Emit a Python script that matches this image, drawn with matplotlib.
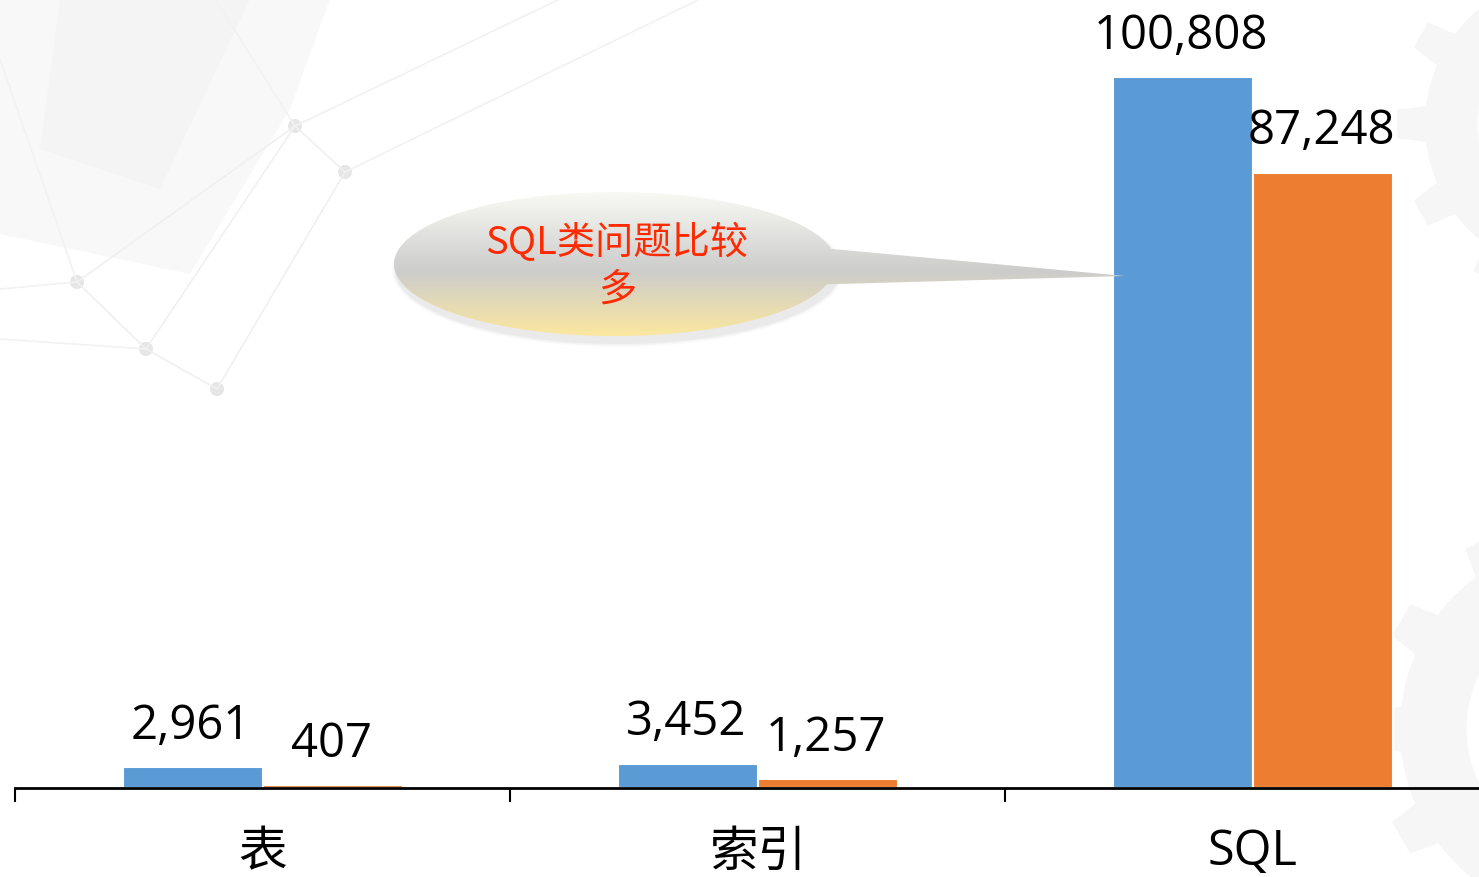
import numpy as np
import matplotlib
matplotlib.use("Agg")
import matplotlib.pyplot as plt
from matplotlib.patches import Polygon, Ellipse, Circle, Wedge, PathPatch
from matplotlib.path import Path

plt.rcParams["font.family"] = ["Noto Sans CJK SC", "DejaVu Sans"]

categories = ["表", "索引", "SQL"]
series_a = [2961, 3452, 100808]   # blue
series_b = [407, 1257, 87248]     # orange
note = "SQL类问题比较\n多"

W, H = 1479, 878
fig = plt.figure(figsize=(W / 100, H / 100), dpi=100)
fig.patch.set_facecolor("white")

# ---- faint decorative background (pixel coords) ----
bg = fig.add_axes([0, 0, 1, 1], zorder=0)
bg.set_xlim(0, W); bg.set_ylim(H, 0); bg.axis("off")
bg.add_patch(Polygon([[0, 0], [330, 0], [290, 110], [190, 275], [0, 235]], closed=True,
                     fc="#f0f0f0", ec="none", alpha=0.45))
bg.add_patch(Polygon([[60, 0], [250, 0], [160, 190], [40, 150]], closed=True,
                     fc="#ebebeb", ec="none", alpha=0.25))
dots = [(295, 127), (345, 173), (77, 283), (146, 350), (217, 390)]
segs = [(0, 1), (1, 4), (2, 3), (3, 4), (0, 3), (2, 0)]
for i, j in segs:
    bg.plot([dots[i][0], dots[j][0]], [dots[i][1], dots[j][1]], color="#f0f0f0", lw=1.2)
for x0, y0, x1, y1 in [(215, 0, 295, 127), (0, 60, 77, 283), (0, 340, 146, 350),
                       (295, 127, 560, 0), (345, 173, 700, 0), (0, 290, 77, 283)]:
    bg.plot([x0, x1], [y0, y1], color="#f2f2f2", lw=1.2)
for x, y in dots:
    bg.add_patch(Circle((x, y), 7, fc="#e6e6e6", ec="none"))
# gears at right edge
for cx, cy, r in [(1575, 125, 150), (1590, 730, 190)]:
    bg.add_patch(Wedge((cx, cy), r, 0, 360, width=r * 0.35, fc="#f6f6f6", ec="none"))
    for a in np.linspace(0, 2 * np.pi, 12, endpoint=False):
        ux, uy = np.cos(a), np.sin(a)
        px, py = -uy, ux
        t = r * 0.12
        pts = [[cx + ux * (r - 2) + px * t, cy + uy * (r - 2) + py * t],
               [cx + ux * (r + 28) + px * t * 0.8, cy + uy * (r + 28) + py * t * 0.8],
               [cx + ux * (r + 28) - px * t * 0.8, cy + uy * (r + 28) - py * t * 0.8],
               [cx + ux * (r - 2) - px * t, cy + uy * (r - 2) - py * t]]
        bg.add_patch(Polygon(pts, closed=True, fc="#f6f6f6", ec="none"))

# ---- main chart ----
left, base = 15, 789
step = 495
ax = fig.add_axes([left / W, (H - base) / H, (W - left) / W, base / H], zorder=2)
ax.patch.set_alpha(0)
x = np.arange(len(categories))
bw = 140 / step
top_px = 78
ymax = series_a[2] * base / (base - top_px)

ba = ax.bar(x - bw / 2, series_a, bw, color="#5B9BD5", edgecolor="white", lw=1.5)
bb = ax.bar(x + bw / 2, series_b, bw, color="#ED7D31", edgecolor="white", lw=1.5)
for bars, vals in [(ba, series_a), (bb, series_b)]:
    for r, v in zip(bars, vals):
        ax.annotate(f"{v:,}", (r.get_x() + r.get_width() / 2, v), xytext=(-1, 21),
                    textcoords="offset points", ha="center", va="baseline",
                    fontsize=34, family="Open Sans", color="black")

for s in ["top", "right", "left"]:
    ax.spines[s].set_visible(False)
ax.spines["bottom"].set_linewidth(2)
ax.set_yticks([])
ax.set_xticks([-0.5, 0.5, 1.5, 2.5])
ax.set_xticklabels([])
ax.tick_params(axis="x", which="major", length=10, width=1.5, direction="out")
ax.set_xticks(x, minor=True)
ax.set_xticklabels(categories, minor=True, fontsize=35)
ax.tick_params(axis="x", which="minor", length=0, pad=28)
for lab in ax.get_xticklabels(minor=True):
    if lab.get_text() == "SQL":
        lab.set_family("Open Sans")
ax.set_xlim(-0.5, -0.5 + (W - left) / step)
ax.set_ylim(0, ymax)

# ---- callout bubble (pixel coords) ----
ov = fig.add_axes([0, 0, 1, 1], zorder=3)
ov.set_xlim(0, W); ov.set_ylim(H, 0); ov.axis("off")
ecx, ecy, ea, eb = 615, 265, 221, 72
tip = (1125, 277)
th1 = np.arctan2(-15 / eb, 214 / ea)
th2 = np.arctan2(20 / eb, 209 / ea)
ts = np.linspace(th2, th1 + 2 * np.pi, 300)
verts = [(ecx + ea * np.cos(t), ecy + eb * np.sin(t)) for t in ts] + [tip]
shape = Path(verts + [verts[0]], closed=True)
for k, al in [(10, 0.04), (7, 0.05), (4, 0.07)]:
    ov.add_patch(Ellipse((ecx + 3, ecy + 6), 2 * ea + k, 2 * eb + k, fc="#808080",
                         ec="none", alpha=al))
grad_y = np.linspace(0, 1, 256)
c_top = np.array([0.98, 0.98, 0.96])
c_mid = np.array([0.80, 0.80, 0.80])
c_bot = np.array([0.99, 0.91, 0.62])
cols = np.array([c_top + (c_mid - c_top) * (g / 0.55) if g < 0.55
                 else c_mid + (c_bot - c_mid) * ((g - 0.55) / 0.45) for g in grad_y])
img = np.repeat(cols[:, None, :], 2, axis=1)
im = ov.imshow(img, extent=(ecx - ea - 2, tip[0] + 2, ecy + eb + 1, ecy - eb - 1),
               aspect="auto", interpolation="bilinear", zorder=2)
clip = PathPatch(shape, transform=ov.transData, fc="none", ec="none")
ov.add_patch(clip)
im.set_clip_path(clip)
ov.set_xlim(0, W); ov.set_ylim(H, 0)
ov.text(617, 267, note, ha="center", va="center", fontsize=27.5, color="#FF2A00",
        linespacing=1.25, zorder=4)

fig.savefig("out.png", dpi=100)
